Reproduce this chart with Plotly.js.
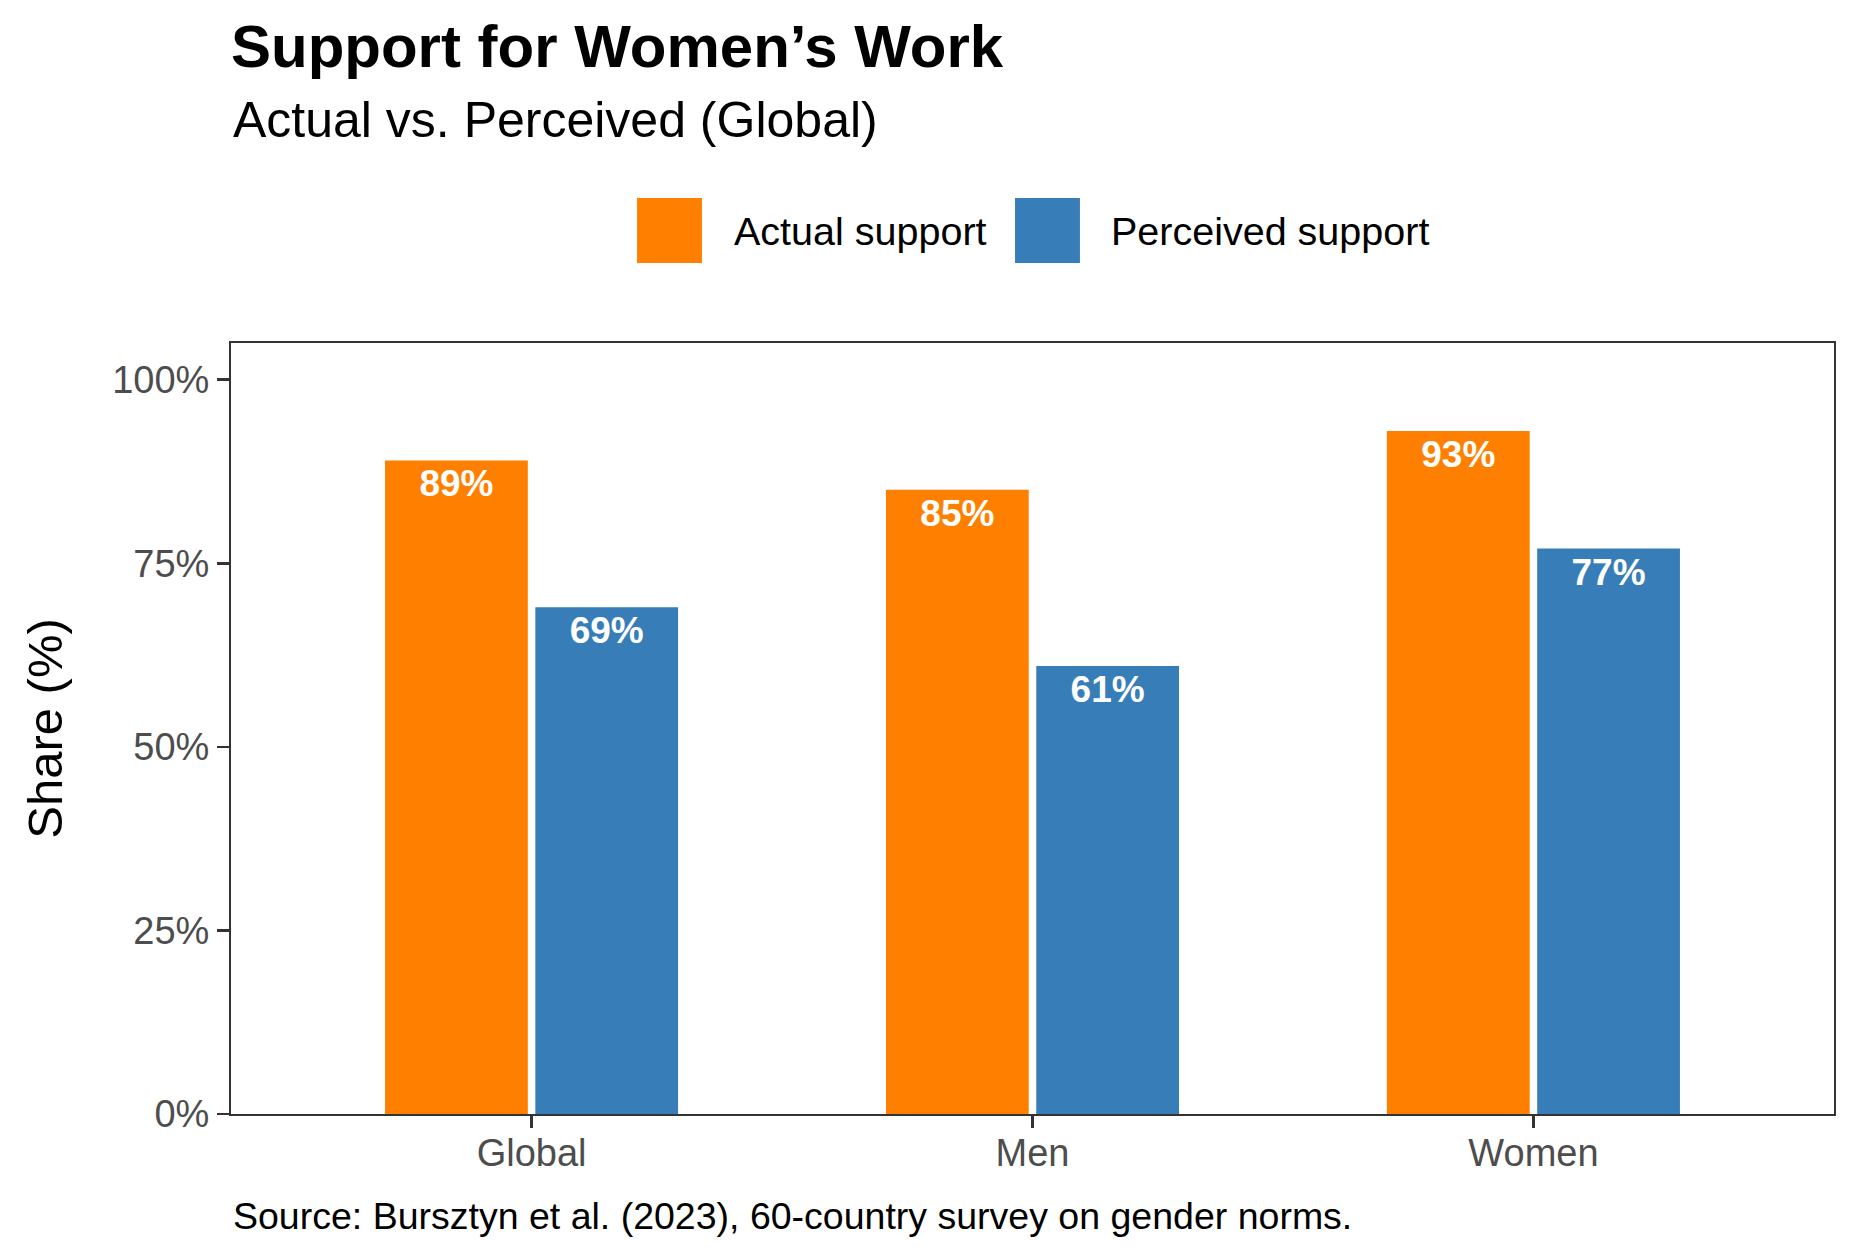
<!DOCTYPE html>
<html>
<head>
<meta charset="utf-8">
<script src="https://cdn.plot.ly/plotly-3.0.1.min.js"></script>
<style>
  html, body { margin: 0; padding: 0; background: #ffffff; }
  #chart { width: 1860px; height: 1260px; }
</style>
</head>
<body>
<div id="chart"></div>
<script>
// ---- Data ----
const categories = ["Global", "Men", "Women"];
const actualSupport = [89, 85, 93];
const perceivedSupport = [69, 61, 77];
const seriesNames = ["Actual support", "Perceived support"];
const yTickValues = [0, 25, 50, 75, 100];
const yTickLabels = ["0%", "25%", "50%", "75%", "100%"];

const titleText = "Support for Women\u2019s Work";
const subtitleText = "Actual vs. Perceived (Global)";
const captionText = "Source: Bursztyn et al. (2023), 60-country survey on gender norms.";
const yTitleText = "Share (%)";

// ---- Styles ----
const FONT = "Liberation Sans, Arial, Helvetica, sans-serif";
const colors = ["#FF7F00", "#377EB8"];

function barTrace(name, values, color) {
  return {
    type: "bar",
    name: name,
    x: categories,
    y: values,
    marker: { color: color, line: { width: 0 } },
    texttemplate: "%{y}%",
    textposition: "inside",
    insidetextanchor: "end",
    textangle: 0,
    constraintext: "none",
    textfont: { family: FONT, size: 37, color: "#ffffff", weight: "bold" },
    hoverinfo: "x+y+name",
    showlegend: false
  };
}

const traces = [
  barTrace(seriesNames[0], actualSupport, colors[0]),
  barTrace(seriesNames[1], perceivedSupport, colors[1])
];

// custom legend (large keys like the reference)
const legendShapes = [
  { type: "rect", xref: "paper", yref: "paper", x0: 0.2533, x1: 0.2938, y0: 1.1038, y1: 1.188,
    fillcolor: colors[0], line: { width: 0 } },
  { type: "rect", xref: "paper", yref: "paper", x0: 0.4891, x1: 0.5296, y0: 1.1038, y1: 1.188,
    fillcolor: colors[1], line: { width: 0 } }
];

const annotations = [
  { text: subtitleText, xref: "paper", yref: "paper", x: 0, y: 1.2892, xanchor: "left", yanchor: "middle",
    showarrow: false, font: { family: FONT, size: 50, color: "#000000" } },
  { text: seriesNames[0], xref: "paper", yref: "paper", x: 0.3125, y: 1.1453, xanchor: "left", yanchor: "middle",
    showarrow: false, font: { family: FONT, size: 39.5, color: "#000000" } },
  { text: seriesNames[1], xref: "paper", yref: "paper", x: 0.5477, y: 1.1453, xanchor: "left", yanchor: "middle",
    showarrow: false, font: { family: FONT, size: 39.5, color: "#000000" } },
  { text: captionText, xref: "paper", yref: "paper", x: 0, y: -0.1323, xanchor: "left", yanchor: "middle",
    showarrow: false, font: { family: FONT, size: 37.5, color: "#000000" } }
];

const layout = {
  width: 1860,
  height: 1260,
  paper_bgcolor: "#ffffff",
  plot_bgcolor: "#ffffff",
  margin: { l: 231, r: 26, t: 343, b: 146, pad: 0 },
  font: { family: FONT, color: "#000000" },
  title: {
    text: "<b>" + titleText + "</b>",
    x: 231 / 1860, xref: "container", xanchor: "left",
    y: 1 - 46 / 1260, yref: "container", yanchor: "middle",
    font: { family: FONT, size: 60, color: "#000000" }
  },
  barmode: "group",
  bargap: 0.4,
  bargroupgap: 0.05,
  showlegend: false,
  xaxis: {
    type: "category",
    range: [-0.6, 2.6],
    showgrid: false,
    zeroline: false,
    showline: true,
    mirror: true,
    linecolor: "#333333",
    linewidth: 2,
    ticks: "outside",
    ticklen: 12,
    tickwidth: 2.5,
    tickcolor: "#333333",
    ticklabelstandoff: -8,
    tickfont: { family: FONT, size: 38, color: "#4D4D4D" },
    fixedrange: true
  },
  yaxis: {
    range: [0, 105],
    tickvals: yTickValues,
    ticktext: yTickLabels,
    showgrid: false,
    zeroline: false,
    showline: true,
    mirror: true,
    linecolor: "#333333",
    linewidth: 2,
    ticks: "outside",
    ticklen: 12,
    tickwidth: 2.5,
    tickcolor: "#333333",
    tickfont: { family: FONT, size: 38, color: "#4D4D4D" },
    title: { text: yTitleText, font: { family: FONT, size: 49, color: "#000000" }, standoff: 34 },
    fixedrange: true
  },
  shapes: legendShapes,
  annotations: annotations
};

Plotly.newPlot("chart", traces, layout, { displayModeBar: false, staticPlot: true });
</script>
</body>
</html>
